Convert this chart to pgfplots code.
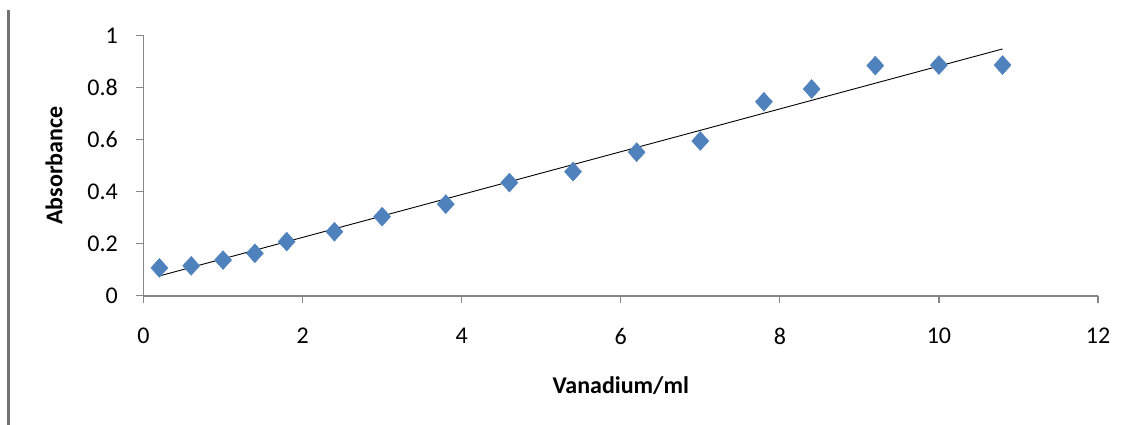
\documentclass[border=0pt]{standalone}
\usepackage{pgfplots}
\pgfplotsset{compat=1.18}
\usepackage{fontspec}
\setmainfont{Carlito}
\definecolor{exblue}{RGB}{79,129,189}
\definecolor{axgray}{RGB}{134,134,134}
\begin{document}
\begin{tikzpicture}
\path[use as bounding box] (0,0) rectangle (1123bp,425bp);
\draw[axgray!85!black, line width=3bp] (8.5bp,0) -- (8.5bp,415bp);
\begin{axis}[
  at={(143.5bp,129.3bp)}, anchor=origin,
  scale only axis, width=954.5bp, height=260bp,
  xmin=0, xmax=12, ymin=0, ymax=1,
  axis lines=left, axis line style={axgray, line width=1.6bp, -},
  xtick={0,2,...,12}, ytick={0,0.2,...,1},
  yticklabels={0,0.2,0.4,0.6,0.8,1},
  tick align=outside, major tick length=7.5bp,
  tick style={axgray, line width=1.2bp},
  /pgf/number format/assume math mode=true,
  ticklabel style={font=\fontsize{24bp}{28bp}\selectfont, inner sep=0pt},
  yticklabel style={anchor=east, xshift=-25.5bp+7.5bp},
  xticklabel style={anchor=north, yshift=-32.3bp+7.5bp},
  xlabel={\textbf{Vanadium/ml}}, ylabel={\textbf{Absorbance}},
  label style={font=\fontsize{24bp}{28bp}\selectfont},
  xlabel style={at={(axis description cs:0.5,0)}, anchor=center, yshift=-89.5bp},
  ylabel style={at={(axis description cs:0,0.5)}, anchor=center, yshift=89.5bp},
  clip=false,
]
\addplot[black, line width=0.9bp] coordinates {(0.2,0.076) (10.8,0.949)};
\addplot[only marks, mark=diamond*, mark size=9.5bp, mark options={fill=exblue, draw=exblue, xscale=1.2}] coordinates {
(0.2,0.107) (0.6,0.115) (1.0,0.137) (1.4,0.163) (1.8,0.208) (2.4,0.246)
(3.0,0.304) (3.8,0.352) (4.6,0.435) (5.4,0.477) (6.2,0.552) (7.0,0.595)
(7.8,0.746) (8.4,0.795) (9.2,0.885) (10.0,0.887) (10.8,0.887)};
\end{axis}
\end{tikzpicture}
\end{document}
